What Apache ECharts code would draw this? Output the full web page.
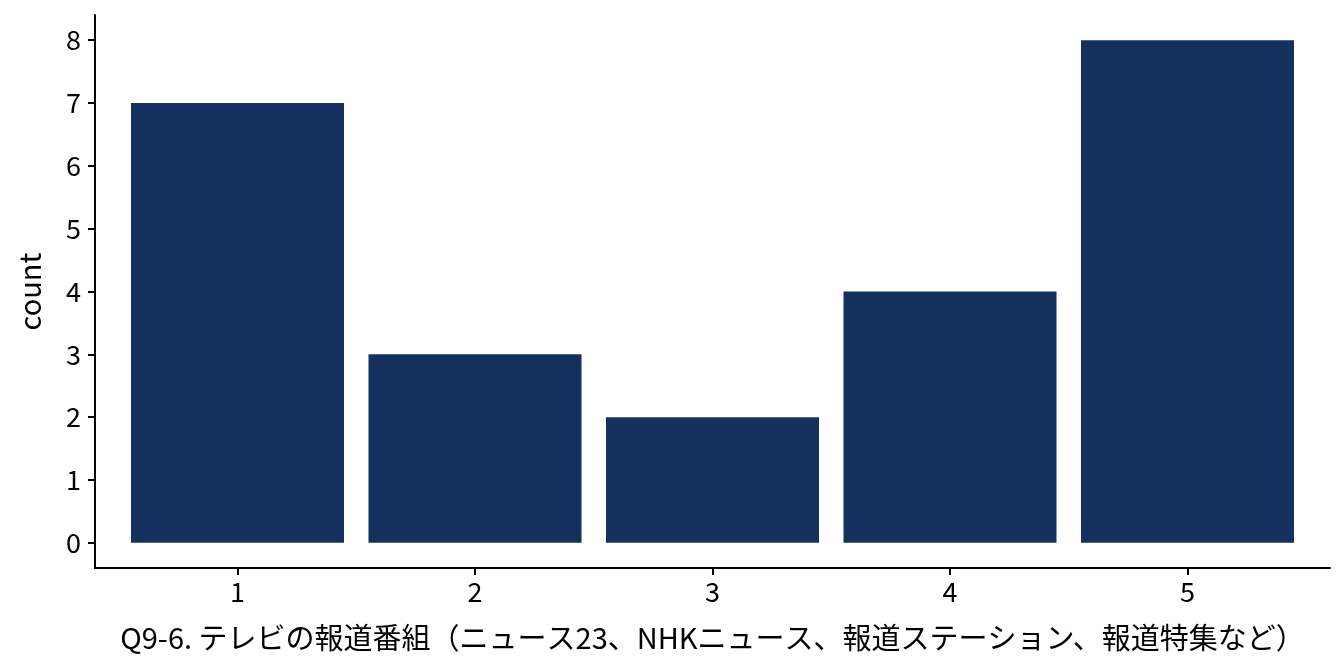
<!DOCTYPE html>
<html><head><meta charset="utf-8">
<script src="https://cdn.jsdelivr.net/npm/echarts@6/dist/echarts.min.js"></script>
<style>html,body{margin:0;padding:0;background:#fff}#c{width:1344px;height:672px}</style>
</head><body><div id="c"></div>
<script>
const categories = [1, 2, 3, 4, 5];
const counts = [7, 3, 2, 4, 8];
const yTicks = [0, 1, 2, 3, 4, 5, 6, 7, 8];
const xTitle = 'Q9-6. テレビの報道番組（ニュース23、NHKニュース、報道ステーション、報道特集など）';
const yTitle = 'count';

const font = '"Noto Sans CJK JP", "Noto Sans", sans-serif';
const chart = echarts.init(document.getElementById('c'), null, {renderer: 'canvas'});
chart.setOption({
  animation: false,
  backgroundColor: '#fff',
  grid: {left: 95, right: 14, top: 15, bottom: 104, containLabel: false},
  xAxis: {
    type: 'value', min: 0.4, max: 5.6,
    name: xTitle, nameLocation: 'middle', nameGap: 55,
    nameTextStyle: {fontFamily: font, fontSize: 29, color: '#000'},
    axisLine: {onZero: false, lineStyle: {color: '#000', width: 2}},
    axisTick: {show: true, length: 7, lineStyle: {color: '#000', width: 2}, customValues: categories},
    axisLabel: {customValues: categories, fontFamily: font, fontSize: 27, color: '#000', margin: 10},
    splitLine: {show: false}
  },
  yAxis: {
    type: 'value', min: -0.4, max: 8.4,
    name: yTitle, nameLocation: 'middle', nameGap: 51, nameRotate: 90,
    nameTextStyle: {fontFamily: font, fontSize: 29, color: '#000'},
    axisLine: {show: true, onZero: false, lineStyle: {color: '#000', width: 2}},
    axisTick: {show: true, length: 7, lineStyle: {color: '#000', width: 2}, customValues: yTicks},
    axisLabel: {customValues: yTicks, fontFamily: font, fontSize: 27, color: '#000', margin: 14},
    splitLine: {show: false}
  },
  series: [{
    type: 'bar',
    data: categories.map((c, i) => [c, counts[i]]),
    barWidth: 213,
    itemStyle: {color: '#13305f'}
  }]
});
</script></body></html>
